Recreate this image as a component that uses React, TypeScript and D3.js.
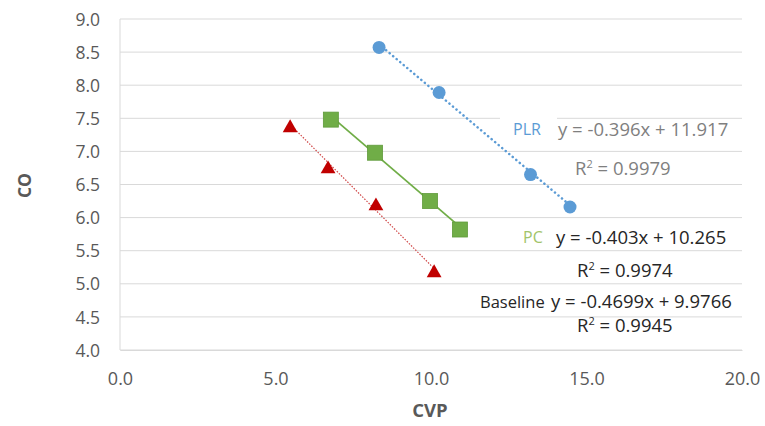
import { useEffect, useRef } from 'react';
import * as d3 from 'd3';

const plrCvp = [8.33, 10.26, 13.2, 14.47];
const plrCo = [8.57, 7.89, 6.65, 6.16];
const pcCvp = [6.78, 8.2, 9.97, 10.93];
const pcCo = [7.48, 6.98, 6.25, 5.82];
const baseCvp = [5.47, 6.69, 8.23, 10.1];
const baseCo = [7.37, 6.75, 6.19, 5.18];

const xTicks = [0, 5, 10, 15, 20];
const yTicks = [4, 4.5, 5, 5.5, 6, 6.5, 7, 7.5, 8, 8.5, 9];

const plrFit = { slope: -0.396, intercept: 11.917 };
const pcFit = { slope: -0.403, intercept: 10.265 };
const baseFit = { slope: -0.4699, intercept: 9.9766 };

const WIDTH = 765;
const HEIGHT = 426;
const FONT = 'Open Sans, sans-serif';

export default function App() {
  const svgRef = useRef<SVGSVGElement>(null);

  useEffect(() => {
    if (!svgRef.current) return;
    const svg = d3.select(svgRef.current);
    svg.selectAll('*').remove();

    const margin = { top: 19, right: 23, bottom: 76, left: 120 };
    const innerWidth = WIDTH - margin.left - margin.right;
    const innerHeight = HEIGHT - margin.top - margin.bottom;

    const g = svg.append('g')
      .attr('transform', `translate(${margin.left},${margin.top})`);

    const xScale = d3.scaleLinear().domain([0, 20]).range([0, innerWidth]);
    const yScale = d3.scaleLinear().domain([4, 9]).range([innerHeight, 0]);

    // Grid lines
    g.selectAll('.grid-line')
      .data(yTicks)
      .enter()
      .append('line')
      .attr('x1', 0)
      .attr('x2', innerWidth)
      .attr('y1', d => yScale(d))
      .attr('y2', d => yScale(d))
      .attr('stroke', '#d9d9d9')
      .attr('stroke-width', 1);

    g.append('line')
      .attr('x1', 0).attr('x2', 0)
      .attr('y1', 0).attr('y2', innerHeight)
      .attr('stroke', '#d9d9d9');

    // Axes
    const xAxis = g.append('g')
      .attr('transform', `translate(0,${innerHeight})`)
      .call(d3.axisBottom(xScale).tickValues(xTicks).tickSize(0).tickPadding(22).tickFormat(d3.format('.1f')));
    xAxis.select('.domain').attr('stroke', '#d9d9d9');
    xAxis.selectAll('text')
      .style('font-family', FONT)
      .style('font-size', '18px')
      .style('fill', '#595959');

    const yAxis = g.append('g')
      .call(d3.axisLeft(yScale).tickValues(yTicks).tickSize(0).tickPadding(20).tickFormat(d3.format('.1f')));
    yAxis.select('.domain').remove();
    yAxis.selectAll('text')
      .attr('dy', '0.35em')
      .style('font-family', FONT)
      .style('font-size', '17.5px')
      .style('fill', '#595959');

    // Axis titles
    svg.append('text')
      .attr('x', margin.left + innerWidth / 2 - 1)
      .attr('y', 417)
      .attr('text-anchor', 'middle')
      .style('font-family', FONT)
      .style('font-size', '18.5px')
      .style('font-weight', 'bold')
      .style('fill', '#595959')
      .text('CVP');

    svg.append('text')
      .attr('transform', `translate(31,${margin.top + innerHeight / 2 + 1}) rotate(-90)`)
      .attr('text-anchor', 'middle')
      .style('font-family', FONT)
      .style('font-size', '17.5px')
      .style('font-weight', 'bold')
      .style('fill', '#595959')
      .text('CO');

    // Trendlines
    const trend = (xs: number[], fit: { slope: number; intercept: number }) => {
      const x0 = d3.min(xs) as number;
      const x1 = d3.max(xs) as number;
      return [[x0, fit.slope * x0 + fit.intercept], [x1, fit.slope * x1 + fit.intercept]] as [number, number][];
    };
    const line = d3.line<[number, number]>()
      .x(d => xScale(d[0]))
      .y(d => yScale(d[1]));

    g.append('path')
      .attr('d', line(trend(plrCvp, plrFit)))
      .attr('fill', 'none')
      .attr('stroke', '#5b9bd5')
      .attr('stroke-width', 2.5)
      .attr('stroke-linecap', 'round')
      .attr('stroke-dasharray', '0.1,4.5');

    g.append('path')
      .attr('d', line(trend(pcCvp, pcFit)))
      .attr('fill', 'none')
      .attr('stroke', '#70ad47')
      .attr('stroke-width', 1.75);

    g.append('path')
      .attr('d', line(trend(baseCvp, baseFit)))
      .attr('fill', 'none')
      .attr('stroke', '#d04848')
      .attr('stroke-width', 1.2)
      .attr('stroke-dasharray', '1.5,1.5');

    // Markers
    g.selectAll('.plr')
      .data(d3.zip(plrCvp, plrCo))
      .enter()
      .append('circle')
      .attr('cx', d => xScale(d[0]))
      .attr('cy', d => yScale(d[1]))
      .attr('r', 6.5)
      .attr('fill', '#5b9bd5');

    g.selectAll('.pc')
      .data(d3.zip(pcCvp, pcCo))
      .enter()
      .append('rect')
      .attr('x', d => xScale(d[0]) - 7.5)
      .attr('y', d => yScale(d[1]) - 7.5)
      .attr('width', 15)
      .attr('height', 15)
      .attr('fill', '#70ad47')
      .attr('stroke', '#5f9a3a')
      .attr('stroke-width', 0.8);

    const tri = d3.symbol().type(d3.symbolTriangle).size(95);
    g.selectAll('.base')
      .data(d3.zip(baseCvp, baseCo))
      .enter()
      .append('path')
      .attr('d', tri)
      .attr('transform', d => `translate(${xScale(d[0])},${yScale(d[1]) + 1})`)
      .attr('fill', '#c00000');

    // Trendline labels
    g.append('rect')
      .attr('x', 500 - margin.left)
      .attr('y', 112 - margin.top)
      .attr('width', 57)
      .attr('height', 30)
      .attr('fill', '#fff');

    const label = (x: number, y: number, text: string, color: string, size = 18.5) => {
      svg.append('text')
        .attr('x', x)
        .attr('y', y)
        .style('font-family', FONT)
        .style('font-size', `${size}px`)
        .style('fill', color)
        .text(text);
    };
    const rSquared = (x: number, y: number, value: string, color: string) => {
      const t = svg.append('text')
        .attr('x', x)
        .attr('y', y)
        .style('font-family', FONT)
        .style('font-size', '18.5px')
        .style('fill', color);
      t.append('tspan').text('R');
      t.append('tspan').attr('dy', -7).style('font-size', '11px').text('2');
      t.append('tspan').attr('dy', 7).text(` = ${value}`);
    };

    label(513, 135, 'PLR', '#5b9bd5', 16);
    label(558, 136, `y = ${plrFit.slope}x + ${plrFit.intercept}`, '#7f7f7f');
    rSquared(575, 175, '0.9979', '#7f7f7f');

    label(523, 243, 'PC', '#a2c46a', 16);
    label(556, 244, `y = ${pcFit.slope}x + ${pcFit.intercept}`, '#262626');
    rSquared(577, 277, '0.9974', '#262626');

    label(480, 308, 'Baseline', '#262626', 16.5);
    label(551, 308, `y = ${baseFit.slope}x + ${baseFit.intercept}`, '#262626');
    rSquared(577, 332, '0.9945', '#262626');
  }, []);

  return (
    <svg
      ref={svgRef}
      width={WIDTH}
      height={HEIGHT}
      style={{ position: 'absolute', left: 0, top: 0, background: '#fff' }}
    />
  );
}
